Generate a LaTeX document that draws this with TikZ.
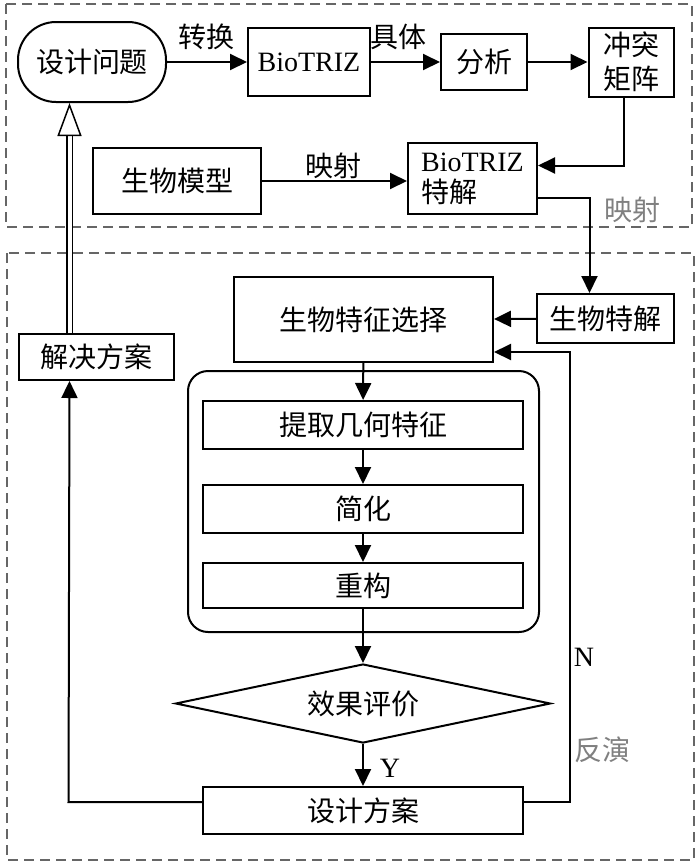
\documentclass[tikz,border=0pt]{standalone}
\usepackage{fontspec}
\setmainfont{Liberation Serif}
\newfontfamily\zh{Noto Sans CJK SC}
\usetikzlibrary{arrows.meta,shapes.geometric}

\begin{document}
\begin{tikzpicture}[x=1pt,y=-1pt,
  every node/.style={font=\zh\fontsize{28}{34}\selectfont},
  box/.style={draw,line width=2pt,inner sep=0pt},
  arr/.style={line width=2pt,-{Triangle[length=17pt,width=16pt]}},
  grey/.style={text=black!50},
  frame/.style={draw=black!60,line width=1.5pt,dash pattern=on 10pt off 6pt}]
\useasboundingbox (0,0) rectangle (700,863);
%% dashed frames
\draw[frame] (6,4) rectangle (692,227);
\draw[frame] (7,253) rectangle (694,860);
%% top part
\node[box,rounded corners=38pt,minimum width=148pt,minimum height=80pt] (wt) at (92,62) {设计问题};
\node[box,minimum width=122pt,minimum height=68pt] (bt) at (309,62) {\rmfamily BioTRIZ};
\node[box,minimum width=86pt,minimum height=56pt] (fx) at (484,62) {分析};
\node[box,align=center,minimum width=85pt,minimum height=69pt] (jz) at (631,62) {冲突\\矩阵};
\node[box,minimum width=168pt,minimum height=66pt] (mx) at (177,181) {生物模型};
\node[box,align=left,minimum width=129pt,minimum height=71pt] (tj) at (472.5,178.5) {{\rmfamily BioTRIZ}\\[-3pt]特解};
\draw[arr] (wt) -- (bt);
\draw[arr] (bt) -- (fx);
\draw[arr] (fx) -- (jz);
\draw[arr] ([xshift=-7pt]jz.south) |- ([yshift=13pt]tj.east);
\draw[arr] (mx.east) -- (mx.east -| tj.west);
\node at (206,37) {转换};
\node at (398,37) {具体};
\node at (333,166) {映射};
\node[grey] at (632,210) {映射};
%% bottom part
\node[box,minimum width=137pt,minimum height=49pt] (sj) at (605.5,318.5) {生物特解};
\node[box,minimum width=259pt,minimum height=85pt] (xz) at (363.5,319.5) {生物特征选择};
\node[box,minimum width=155pt,minimum height=46pt] (jj) at (96.5,357) {解决方案};
\node[box,rounded corners=20pt,minimum width=351pt,minimum height=261pt] (grp) at (363.5,501.5) {};
\node[box,minimum width=320pt,minimum height=48pt] (tq) at (363,425) {提取几何特征};
\node[box,minimum width=320pt,minimum height=48pt] (jh) at (363,509) {简化};
\node[box,minimum width=320pt,minimum height=45pt] (cg) at (363,585.5) {重构};
\node[box,diamond,aspect=4.75,minimum width=375pt,minimum height=79pt] (pj) at (363,703.5) {效果评价};
\node[box,minimum width=320pt,minimum height=47pt] (fa) at (363,810.5) {设计方案};
\draw[arr] ([yshift=-19pt]tj.east) -| ([xshift=-16pt]sj.north);
\draw[arr] (sj) -- (xz);
\draw[arr] (xz) -- (tq);
\draw[arr] (tq) -- (jh);
\draw[arr] (jh) -- (cg);
\draw[arr] (cg) -- (pj);
\draw[arr] (pj) -- (fa);
\draw[arr] ([yshift=8.5pt]fa.east) -- ++(46,0) |- ([yshift=-32.5pt]xz.east);
\coordinate (lx) at (69.5,0);
\draw[arr] ([yshift=8.5pt]fa.west) -- ++(-133.5,0) -- (jj.south -| lx);
%% hollow arrow back to the problem
\coordinate (hb) at (69.5,135);
\draw[line width=1.3pt,double distance=4pt] (jj.north -| lx) -- (hb);
\draw[line width=1.5pt,-{Triangle[open,length=33pt,width=24pt]}] (hb) -- (wt.south -| lx);
\node at (390,768) {\rmfamily Y};
\node at (584,657) {\rmfamily N};
\node[grey] at (602,750) {反演};
\end{tikzpicture}
\end{document}
